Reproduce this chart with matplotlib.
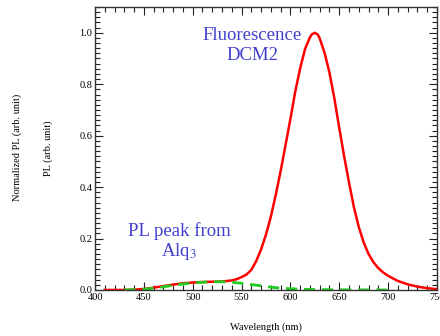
import matplotlib
matplotlib.use("Agg")
import matplotlib.pyplot as plt
from matplotlib.ticker import MultipleLocator

plt.rcParams["font.family"] = ["Liberation Serif", "DejaVu Serif"]
plt.rcParams["mathtext.fontset"] = "stix"

# DCM2 doped device PL (normalized)
wl_red = [410, 420, 430, 440, 450, 460, 470, 480, 490, 500, 510, 520, 530, 540,
          545, 550, 555, 560, 565, 570, 575, 580, 585, 590, 595, 600, 605, 610,
          615, 620, 622, 625, 628, 630, 635, 640, 645, 650, 655, 660, 665, 670,
          675, 680, 685, 690, 695, 700, 710, 720, 730, 740, 750]
pl_red = [0.000, 0.000, 0.000, 0.001, 0.004, 0.009, 0.015, 0.021, 0.026, 0.029,
          0.031, 0.032, 0.033, 0.037, 0.042, 0.050, 0.060, 0.078, 0.112, 0.158,
          0.215, 0.285, 0.370, 0.462, 0.563, 0.665, 0.772, 0.862, 0.937, 0.982,
          0.994, 1.000, 0.993, 0.978, 0.922, 0.845, 0.745, 0.630, 0.520, 0.418,
          0.322, 0.245, 0.185, 0.140, 0.108, 0.085, 0.068, 0.055, 0.035, 0.022,
          0.013, 0.007, 0.003]

# Alq3 emission component
wl_green = [430, 440, 450, 460, 470, 480, 490, 500, 510, 520, 530, 540, 550,
            560, 570, 580, 590, 600, 610, 620, 640, 660, 700]
pl_green = [0.000, 0.001, 0.003, 0.007, 0.012, 0.018, 0.023, 0.027, 0.030,
            0.032, 0.032, 0.030, 0.026, 0.021, 0.016, 0.011, 0.007, 0.005,
            0.003, 0.002, 0.001, 0.0005, 0.000]

text_color = "#4040cc"

fig = plt.figure(figsize=(4.4, 3.36), dpi=100)
ax = fig.add_axes([0.216, 0.137, 0.777, 0.842])

ax.plot(wl_red, pl_red, color="#ff0000", linewidth=1.8)
ax.plot(wl_green, pl_green, color="#22cc22", linewidth=2.0, linestyle=(0, (4, 2.5)))

ax.set_xlim(400, 750)
ax.set_ylim(0, 1.1)
ax.xaxis.set_major_locator(MultipleLocator(50))
ax.xaxis.set_minor_locator(MultipleLocator(10))
ax.yaxis.set_major_locator(MultipleLocator(0.2))
ax.yaxis.set_minor_locator(MultipleLocator(0.02))
ax.yaxis.set_major_formatter(plt.FormatStrFormatter("%.1f"))
ax.tick_params(which="both", direction="in", top=True, right=True,
               labelsize=7.5, width=0.8, color="#222222")
ax.tick_params(which="major", length=6, pad=2)
ax.tick_params(which="minor", length=3.5)
for s in ax.spines.values():
    s.set_linewidth(1.0)
    s.set_color("#333333")

ax.set_xlabel("Wavelength (nm)", fontsize=7.5, labelpad=15)
ax.set_ylabel("PL (arb. unit)", fontsize=7.5, labelpad=19)
fig.text(0.038, 0.56, "Normalized PL (arb. unit)", rotation=90, fontsize=7.5,
         ha="center", va="center")

ax.text(561, 0.99, "Fluorescence", color=text_color, fontsize=13.5,
        ha="center", va="center")
ax.text(561, 0.91, "DCM2", color=text_color, fontsize=13.5,
        ha="center", va="center")
ax.text(486, 0.23, "PL peak from", color=text_color, fontsize=13.5,
        ha="center", va="center")
ax.text(486, 0.15, r"Alq$_3$", color=text_color, fontsize=13.5,
        ha="center", va="center")

fig.savefig("out.png", dpi=100)
